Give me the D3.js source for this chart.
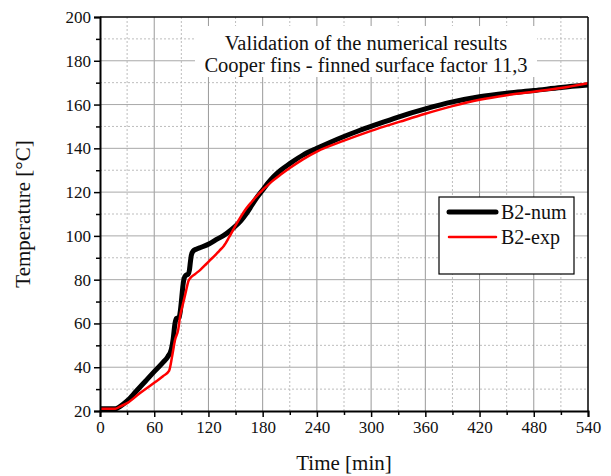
<!DOCTYPE html>
<html>
<head>
<meta charset="utf-8">
<script src="https://cdn.jsdelivr.net/npm/d3@7/dist/d3.min.js"></script>
<style>
  html, body { margin: 0; padding: 0; background: #fff; }
  svg { display: block; font-family: "Liberation Serif", "Times New Roman", serif; }
</style>
</head>
<body>
<svg id="chart" width="611" height="476"></svg>
<script>
// Measured temperatures over time
const numTime = [0, 17, 22, 30, 40, 50, 60, 70, 75, 79, 81, 83, 84.5, 87.5, 89, 90.5, 92, 93, 95, 97.5, 99, 100, 101, 103, 107, 112, 121, 130, 137, 145, 150, 156, 162, 168, 173, 180, 186, 192, 200, 210, 225, 240, 255, 270, 285, 300, 330, 360, 390, 420, 450, 480, 510, 540];
const numTemp = [21, 21, 22, 24.6, 29, 33.5, 38, 42.3, 44.8, 48.3, 53, 60, 62.3, 62.8, 66, 72, 78, 80.5, 82, 82.5, 84.5, 88, 91, 93, 94, 94.8, 96.4, 98.6, 100.2, 102.7, 104.5, 107, 110.2, 114, 117.2, 121, 124.2, 127, 130, 133, 137, 140, 142.8, 145.4, 147.8, 150, 154.3, 158, 161.2, 163.6, 165.2, 166.4, 167.8, 168.9];

const expTime = [0, 17, 22, 30, 44, 60, 70, 76.4, 80, 83, 86.7, 88.5, 92, 95, 98, 100, 105, 111, 116, 121, 127, 132, 137, 143, 149, 155, 162, 168, 173, 180, 190, 200, 210, 225, 240, 270, 300, 332, 360, 390, 420, 450, 480, 510, 540];
const expTemp = [21, 21, 22, 23.6, 28.1, 32.9, 36, 38.3, 45.5, 52.4, 57.5, 63, 69.2, 74.5, 79.5, 80.8, 82.5, 84.5, 86.5, 88.6, 91, 93.2, 95.4, 99.5, 104, 108.2, 112.6, 115.6, 118, 121, 124.8, 128, 131, 135.1, 138.5, 143.5, 148, 152.2, 155.8, 159.3, 162.2, 164.3, 165.9, 167.6, 169.8];

const xTicks = [0, 60, 120, 180, 240, 300, 360, 420, 480, 540];
const yTicks = [20, 40, 60, 80, 100, 120, 140, 160, 180, 200];
const seriesNames = ["B2-num", "B2-exp"];
const titleLines = ["Validation of the numerical results", "Cooper fins - finned surface factor 11,3"];

const svg = d3.select("#chart");
const m = { left: 100, right: 23, top: 17, bottom: 65 };
const W = 611, H = 476;
const iw = W - m.left - m.right, ih = H - m.top - m.bottom;

const x = d3.scaleLinear().domain([0, 540]).range([0, iw]);
const y = d3.scaleLinear().domain([20, 200]).range([ih, 0]);

const g = svg.append("g").attr("transform", `translate(${m.left},${m.top})`);

const xMinor = d3.range(30, 540, 60);
const yMinor = d3.range(30, 200, 20);

// grid
const grid = g.append("g");
grid.selectAll(".vmin").data(xMinor).join("line")
  .attr("x1", d => x(d)).attr("x2", d => x(d)).attr("y1", 0).attr("y2", ih)
  .attr("stroke", "#bdbdbd").attr("stroke-width", 1).attr("stroke-dasharray", "2,2");
grid.selectAll(".hmin").data(yMinor).join("line")
  .attr("y1", d => y(d)).attr("y2", d => y(d)).attr("x1", 0).attr("x2", iw)
  .attr("stroke", "#bdbdbd").attr("stroke-width", 1).attr("stroke-dasharray", "2,2");
grid.selectAll(".vmaj").data(xTicks.slice(1, -1)).join("line")
  .attr("x1", d => x(d)).attr("x2", d => x(d)).attr("y1", 0).attr("y2", ih)
  .attr("stroke", "#999").attr("stroke-width", 1);
grid.selectAll(".hmaj").data(yTicks.slice(1, -1)).join("line")
  .attr("y1", d => y(d)).attr("y2", d => y(d)).attr("x1", 0).attr("x2", iw)
  .attr("stroke", "#a8a8a8").attr("stroke-width", 1);

// title block
g.append("rect").attr("x", 95).attr("y", 9).attr("width", 342).attr("height", 51).attr("fill", "#fff");
g.append("text").attr("x", 266).attr("y", 33).attr("text-anchor", "middle")
  .attr("font-size", 20.5).attr("fill", "#111").text(titleLines[0]);
g.append("text").attr("x", 266).attr("y", 55).attr("text-anchor", "middle")
  .attr("font-size", 20.5).attr("fill", "#111").text(titleLines[1]);

// curves
g.append("clipPath").attr("id", "clip").append("rect").attr("width", iw).attr("height", ih);
const line = d3.line().x(d => x(d[0])).y(d => y(d[1])).curve(d3.curveMonotoneX);
const numData = numTime.map((t, i) => [t, numTemp[i]]);
const expData = expTime.map((t, i) => [t, expTemp[i]]);
const curves = g.append("g").attr("clip-path", "url(#clip)");
curves.append("path").datum(numData).attr("d", line)
  .attr("fill", "none").attr("stroke", "#000").attr("stroke-width", 5).attr("stroke-linejoin", "round");
curves.append("path").datum(expData).attr("d", line)
  .attr("fill", "none").attr("stroke", "#ff0000").attr("stroke-width", 2.5).attr("stroke-linejoin", "round");

// frame
g.append("line").attr("x1", 0).attr("x2", iw).attr("y1", 0).attr("y2", 0).attr("stroke", "#000").attr("stroke-width", 1.5);
g.append("line").attr("x1", iw).attr("x2", iw).attr("y1", 0).attr("y2", ih).attr("stroke", "#000").attr("stroke-width", 1.5);

// axes
const xAxis = g.append("g").attr("transform", `translate(0,${ih})`)
  .call(d3.axisBottom(x).tickValues(xTicks).tickSize(6).tickPadding(4).tickFormat(d3.format("d")));
const xAxisMinor = g.append("g").attr("transform", `translate(0,${ih})`)
  .call(d3.axisBottom(x).tickValues(xMinor).tickSize(4).tickFormat(""));
const yAxis = g.append("g")
  .call(d3.axisLeft(y).tickValues(yTicks).tickSize(6).tickPadding(3).tickFormat(d3.format("d")));
const yAxisMinor = g.append("g")
  .call(d3.axisLeft(y).tickValues(yMinor).tickSize(4).tickFormat(""));

[xAxis, xAxisMinor, yAxis, yAxisMinor].forEach(a => {
  a.select(".domain").attr("stroke", "#000").attr("stroke-width", 2);
  a.selectAll(".tick line").attr("stroke", "#000").attr("stroke-width", 1.5);
  a.selectAll("text").attr("font-family", "Liberation Serif, Times New Roman, serif")
    .attr("font-size", 17).attr("fill", "#111");
});
xAxisMinor.select(".domain").remove();
yAxisMinor.select(".domain").remove();

// axis titles
svg.append("text").attr("x", m.left + iw / 2).attr("y", 470).attr("text-anchor", "middle")
  .attr("font-size", 21).attr("fill", "#111").text("Time [min]");
svg.append("text").attr("transform", `translate(30,${m.top + ih / 2}) rotate(-90)`)
  .attr("text-anchor", "middle").attr("font-size", 21).attr("fill", "#111").text("Temperature [°C]");

// legend
const lg = svg.append("g").attr("transform", "translate(439,197)");
lg.append("rect").attr("width", 135).attr("height", 77).attr("fill", "#fff").attr("stroke", "#000").attr("stroke-width", 1.2);
const colors = ["#000", "#ff0000"], widths = [5, 2.5];
seriesNames.forEach((name, i) => {
  const yy = 15 + i * 25;
  lg.append("line").attr("x1", 10).attr("x2", 57).attr("y1", yy).attr("y2", yy)
    .attr("stroke", colors[i]).attr("stroke-width", widths[i]).attr("stroke-linecap", "round");
  lg.append("text").attr("x", 62).attr("y", yy + 7).attr("font-size", 20).attr("fill", "#111").text(name);
});
</script>
</body>
</html>
